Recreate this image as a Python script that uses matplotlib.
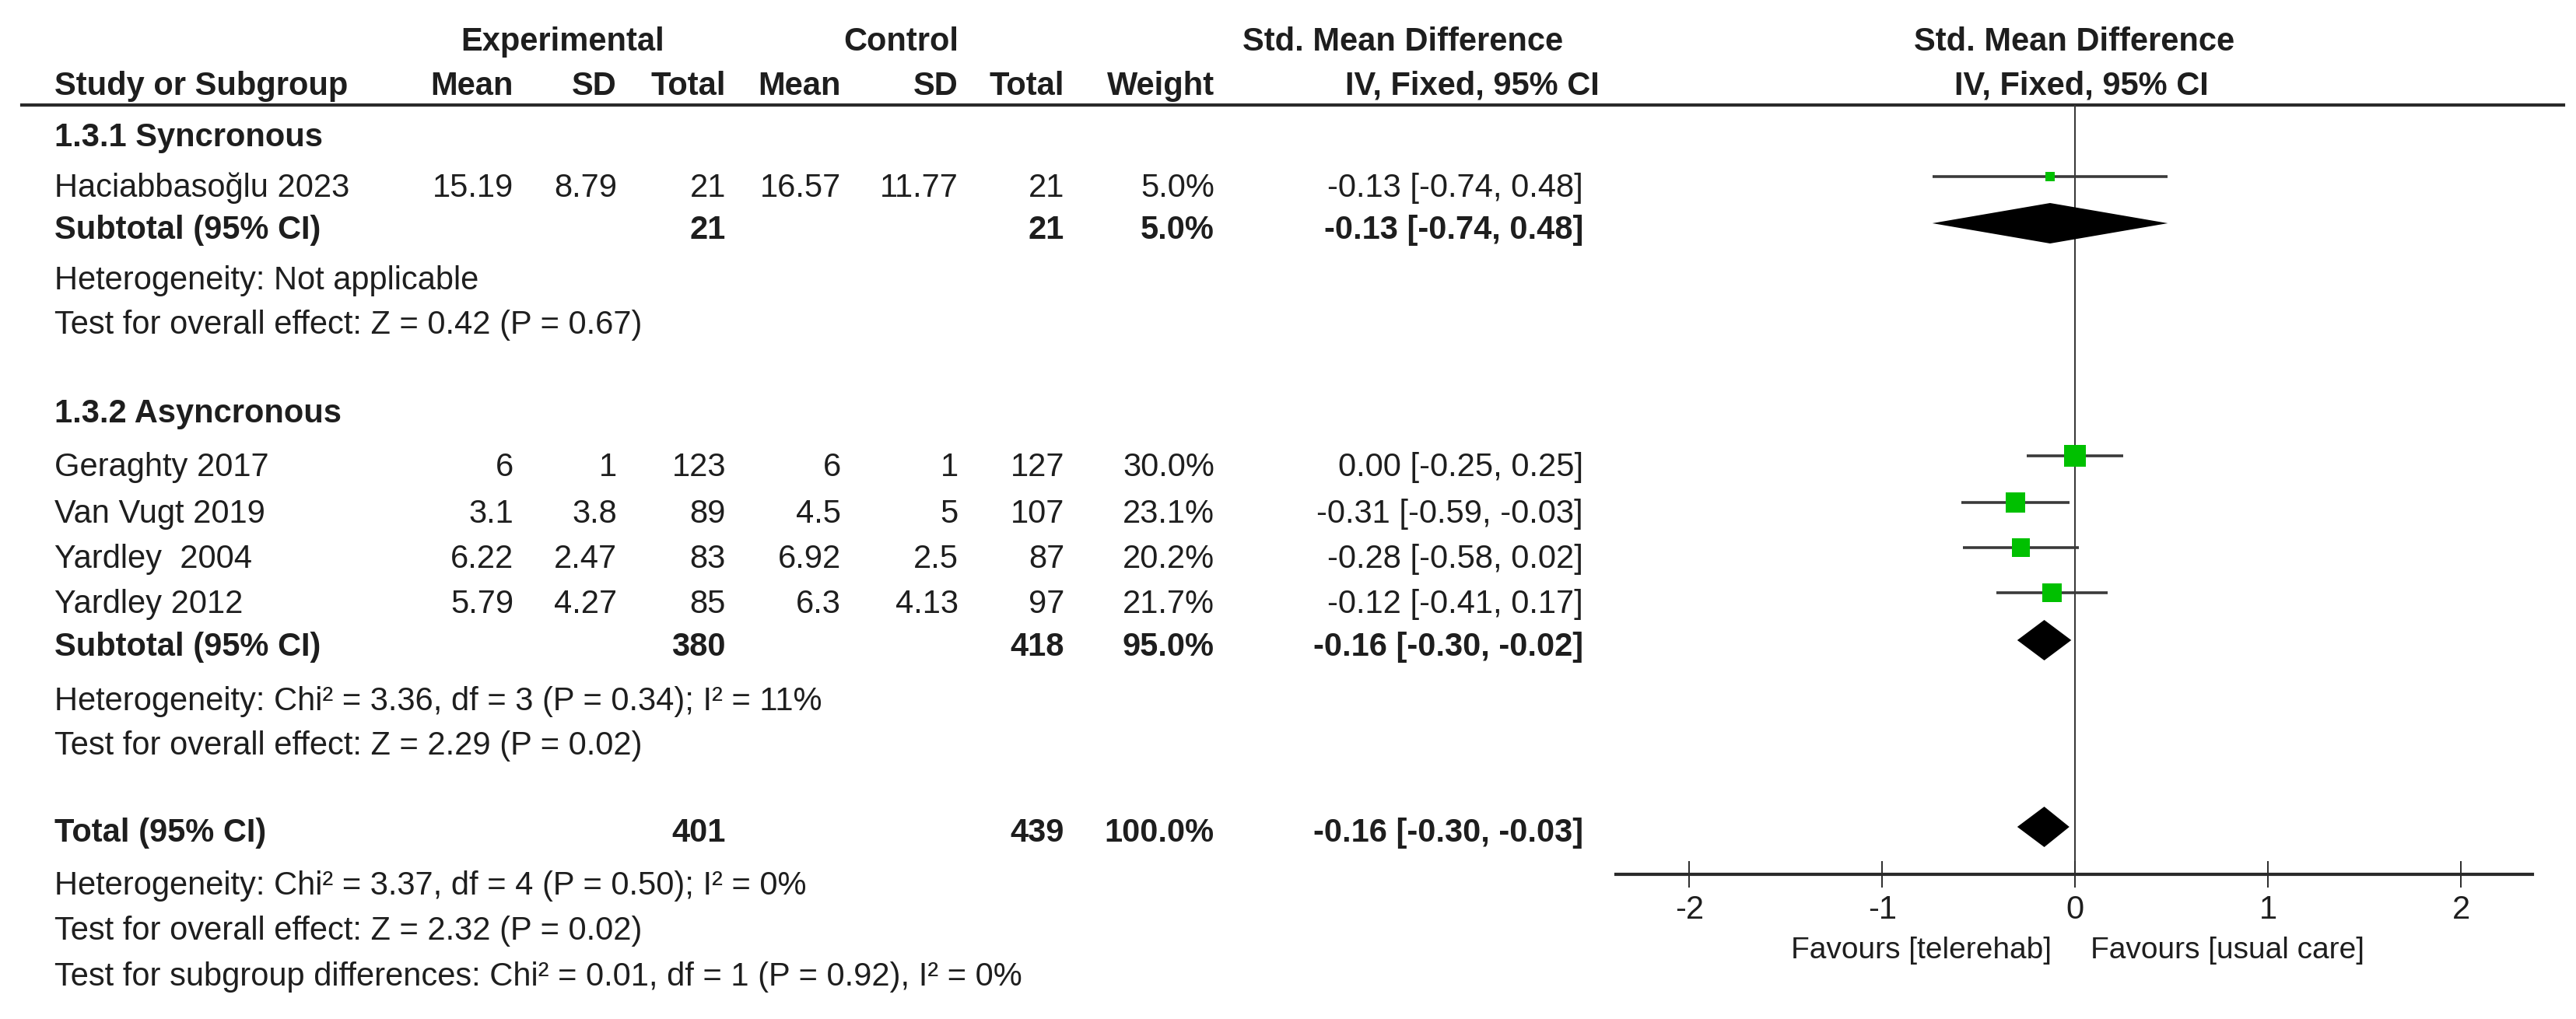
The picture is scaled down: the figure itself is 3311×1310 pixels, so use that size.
import numpy as np
import matplotlib
matplotlib.use("Agg")
import matplotlib.pyplot as plt
from matplotlib.transforms import blended_transform_factory

plt.rcParams['font.family'] = ['Liberation Sans', 'DejaVu Sans']

# study level data
studies = ["Haciabbasoğlu 2023", "Geraghty 2017", "Van Vugt 2019", "Yardley  2004", "Yardley 2012"]
exp_mean = [15.19, 6, 3.1, 6.22, 5.79]
exp_sd = [8.79, 1, 3.8, 2.47, 4.27]
exp_n = [21, 123, 89, 83, 85]
ctl_mean = [16.57, 6, 4.5, 6.92, 6.3]
ctl_sd = [11.77, 1, 5, 2.5, 4.13]
ctl_n = [21, 127, 107, 87, 97]
weight = [5.0, 30.0, 23.1, 20.2, 21.7]
smd = [-0.13, 0.00, -0.31, -0.28, -0.12]
ci_lo = [-0.74, -0.25, -0.59, -0.58, -0.41]
ci_hi = [0.48, 0.25, -0.03, 0.02, 0.17]

# subgroups
groups = ["1.3.1 Syncronous", "1.3.2 Asyncronous"]
sub_exp_n = [21, 380]
sub_ctl_n = [21, 418]
sub_weight = [5.0, 95.0]
sub_smd = [-0.13, -0.16]
sub_lo = [-0.74, -0.30]
sub_hi = [0.48, -0.02]
sub_het = ["Heterogeneity: Not applicable",
           "Heterogeneity: Chi² = 3.36, df = 3 (P = 0.34); I² = 11%"]
sub_test = ["Test for overall effect: Z = 0.42 (P = 0.67)",
            "Test for overall effect: Z = 2.29 (P = 0.02)"]

# overall
tot_exp_n = 401
tot_ctl_n = 439
tot_weight = 100.0
tot_smd = -0.16
tot_lo = -0.30
tot_hi = -0.03
tot_notes = ["Heterogeneity: Chi² = 3.37, df = 4 (P = 0.50); I² = 0%",
             "Test for overall effect: Z = 2.32 (P = 0.02)",
             "Test for subgroup differences: Chi² = 0.01, df = 1 (P = 0.92), I² = 0%"]

ticks = [-2, -1, 0, 1, 2]
favours = ["Favours [telerehab]", "Favours [usual care]"]

# layout (pixel rows / columns)
W, H = 3311, 1310
group_base = [188, 543]
study_base = [253, 612, 672, 730, 788]
sub_base = [307, 843]
het_base = [372, 913]
test_base = [429, 970]
tot_base = 1082
note_base = [1150, 1208, 1267]
cols = [660, 793, 933, 1081, 1232, 1368, 1561, 2035]
axis_y = 1124
rule_y = 135

fs = 30
col = '#1e1e1e'

fig = plt.figure(figsize=(W / 100, H / 100), dpi=100)
ax = fig.add_axes([0, 0, 1, 1])
ax.set_xlim(0, W)
ax.set_ylim(H, 0)
ax.axis('off')

def txt(x, y, s, ha='left', bold=False, size=fs):
    ax.text(x, y, s, ha=ha, va='baseline', fontsize=size, color=col,
            fontweight='bold' if bold else 'normal')

def ci_str(m, lo, hi):
    return f"{m:.2f} [{lo:.2f}, {hi:.2f}]"

# header
txt(723, 65, "Experimental", 'center', True)
txt(1158, 65, "Control", 'center', True)
txt(1803, 65, "Std. Mean Difference", 'center', True)
txt(2666, 65, "Std. Mean Difference", 'center', True)
txt(70, 122, "Study or Subgroup", bold=True)
for x, h in zip(cols[:7], ["Mean", "SD", "Total", "Mean", "SD", "Total", "Weight"]):
    txt(x, 122, h, 'right', True)
txt(2056, 122, "IV, Fixed, 95% CI", 'right', True)
txt(2675, 122, "IV, Fixed, 95% CI", 'center', True)
ax.axhline(rule_y, xmin=28 / W, xmax=3295 / W, color='#2a2a2a', lw=3)

# table body
for g in range(len(groups)):
    txt(70, group_base[g], groups[g], bold=True)
    txt(70, sub_base[g], "Subtotal (95% CI)", bold=True)
    txt(cols[2], sub_base[g], str(sub_exp_n[g]), 'right', True)
    txt(cols[5], sub_base[g], str(sub_ctl_n[g]), 'right', True)
    txt(cols[6], sub_base[g], f"{sub_weight[g]:.1f}%", 'right', True)
    txt(cols[7], sub_base[g], ci_str(sub_smd[g], sub_lo[g], sub_hi[g]), 'right', True)
    txt(70, het_base[g], sub_het[g])
    txt(70, test_base[g], sub_test[g])

for i, name in enumerate(studies):
    y = study_base[i]
    txt(70, y, name)
    vals = [f"{exp_mean[i]:g}", f"{exp_sd[i]:g}", str(exp_n[i]),
            f"{ctl_mean[i]:g}", f"{ctl_sd[i]:g}", str(ctl_n[i]),
            f"{weight[i]:.1f}%", ci_str(smd[i], ci_lo[i], ci_hi[i])]
    for x, v in zip(cols, vals):
        txt(x, y, v, 'right')

txt(70, tot_base, "Total (95% CI)", bold=True)
txt(cols[2], tot_base, str(tot_exp_n), 'right', True)
txt(cols[5], tot_base, str(tot_ctl_n), 'right', True)
txt(cols[6], tot_base, f"{tot_weight:.1f}%", 'right', True)
txt(cols[7], tot_base, ci_str(tot_smd, tot_lo, tot_hi), 'right', True)
for y, s in zip(note_base, tot_notes):
    txt(70, y, s)

# forest panel
ax2 = fig.add_axes([2077 / W, (H - axis_y) / H, (3255 - 2077) / W, (axis_y - rule_y) / H])
ax2.set_xlim(-2.38, 2.37)
ax2.set_ylim(axis_y, rule_y)
ax2.patch.set_alpha(0)
for s in ['top', 'left', 'right']:
    ax2.spines[s].set_visible(False)
ax2.spines['bottom'].set_linewidth(3)
ax2.spines['bottom'].set_color('#2a2a2a')
ax2.set_yticks([])
ax2.set_xticks(ticks)
ax2.set_xticklabels([str(t) for t in ticks])
ax2.tick_params(axis='x', direction='inout', length=25, width=1.4, color='#2a2a2a',
                labelsize=fs, labelcolor=col, pad=6)
ax2.axvline(0, color='#333333', lw=1.4, zorder=1)

mark_y = np.array(study_base) - 26
ax2.hlines(mark_y, ci_lo, ci_hi, color='#3a3a3a', lw=2.6, zorder=2)
side_pt = 28.5 * np.sqrt(np.array(weight) / 30.0) * 0.72
ax2.scatter(smd, mark_y, s=side_pt ** 2, marker='s', color='#00c000', linewidths=0, zorder=3)

dh = 26
for g in range(len(groups)):
    yc = sub_base[g] - 20
    ax2.fill([sub_lo[g], sub_smd[g], sub_hi[g], sub_smd[g]], [yc, yc - dh, yc, yc + dh],
             color='black', lw=0, zorder=3)
yc = tot_base - 19
ax2.fill([tot_lo, tot_smd, tot_hi, tot_smd], [yc, yc - dh, yc, yc + dh],
         color='black', lw=0, zorder=3)

tr = blended_transform_factory(ax2.transData, ax.transData)
ax2.text(-0.12, 1232, favours[0], transform=tr, ha='right', va='baseline',
         fontsize=28, color=col)
ax2.text(0.08, 1232, favours[1], transform=tr, ha='left', va='baseline',
         fontsize=28, color=col)

fig.savefig("out.png", dpi=100)
